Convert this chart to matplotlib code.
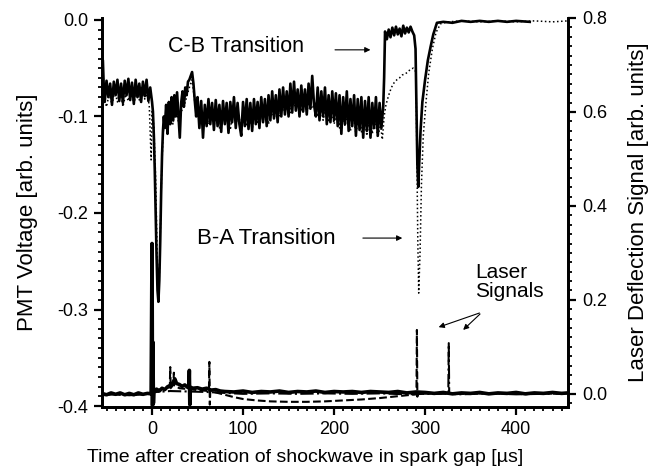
# PMT voltage and laser deflection signals after spark gap shockwave
import matplotlib
matplotlib.use("Agg")
import matplotlib.pyplot as plt
import matplotlib.ticker as mtick

plt.rcParams['font.family'] = ['Liberation Sans', 'DejaVu Sans']
plt.rcParams['axes.unicode_minus'] = False

# PMT C-B transition (solid), left axis
pmt_cb_t = [-55, -54, -53, -52, -50, -48, -46, -44, -42, -40, -38, -36, -34, -32, -30, -28,
            -26, -24, -22, -20, -18, -16, -14, -12, -10, -8, -6, -4, -2, 0,
            1, 2, 3, 4, 5, 6, 7, 8, 9, 10, 11, 12, 13,
            14, 15.5, 17, 18.5, 20, 21.5, 23, 24.5, 26, 27.5, 29, 30.5, 32, 33.5, 35, 36.5,
            38, 39.5, 41, 42.5, 44, 45.5, 47, 48.5, 50, 52, 54, 56, 58, 60, 62, 64, 66, 68,
            70, 72, 74, 76, 78, 80, 82, 84, 86, 88, 90, 92, 94, 96, 98, 100, 102, 104, 106,
            108, 110, 112, 114, 116, 118, 120, 122, 124, 126, 128, 130, 132, 134, 136, 138,
            140, 142, 144, 146, 148, 150, 152, 154, 156, 158, 160, 162, 164, 166, 168, 170,
            172, 174, 176, 178, 180, 182, 184, 186, 188, 190, 192, 194, 196, 198, 200, 202,
            204, 206, 208, 210, 212, 214, 216, 218, 220, 222, 224, 226, 228, 230, 232, 234,
            236, 238, 240, 242, 244, 246, 248, 250, 252, 254, 255, 256, 258, 260, 262, 264,
            266, 268, 270, 272, 274, 276, 278, 280, 282, 284, 286, 288, 289.5, 290.5, 291.5,
            292.5, 293.5, 295, 297, 300, 303, 306, 309, 313, 320, 330, 340, 350, 360, 370,
            380, 390, 400, 415]
pmt_cb_v = [-0.04, -0.042, -0.07, -0.085, -0.063, -0.08, -0.066, -0.088, -0.064, -0.078,
            -0.062, -0.084, -0.066, -0.086, -0.063, -0.078, -0.061, -0.083, -0.065, -0.087,
            -0.062, -0.08, -0.066, -0.085, -0.064, -0.079, -0.062, -0.084, -0.07, -0.085,
            -0.095, -0.12, -0.155, -0.2, -0.245, -0.28, -0.292, -0.27, -0.23, -0.18, -0.14,
            -0.115, -0.1,
            -0.112, -0.088, -0.118, -0.085, -0.108, -0.08, -0.104, -0.078, -0.1, -0.075, -0.098,
            -0.122, -0.086, -0.074, -0.09, -0.07, -0.078, -0.064, -0.062, -0.058, -0.054,
            -0.066, -0.084, -0.1,
            -0.08, -0.112, -0.084, -0.122, -0.088, -0.11, -0.082, -0.108, -0.086, -0.114,
            -0.083, -0.11, -0.088, -0.116, -0.084, -0.108, -0.086, -0.117, -0.085, -0.106,
            -0.08, -0.112, -0.086, -0.108, -0.12, -0.085, -0.11, -0.082, -0.113, -0.086,
            -0.115, -0.082, -0.108, -0.085, -0.112, -0.08, -0.106, -0.082, -0.11, -0.078,
            -0.104, -0.074, -0.102, -0.078, -0.106, -0.072, -0.1, -0.07, -0.098, -0.074, -0.1,
            -0.066, -0.096, -0.064, -0.094, -0.072, -0.1, -0.068, -0.095, -0.072, -0.098,
            -0.066, -0.092, -0.058, -0.088, -0.1, -0.07, -0.104, -0.074, -0.1, -0.07, -0.108,
            -0.078, -0.106, -0.074, -0.104, -0.076, -0.11, -0.078, -0.118, -0.08, -0.108,
            -0.074, -0.115, -0.082, -0.11, -0.078, -0.12, -0.082, -0.114, -0.08, -0.122,
            -0.084, -0.115, -0.08, -0.122, -0.086, -0.112, -0.08, -0.12, -0.086, -0.112, -0.09,
            -0.06, -0.012, -0.02, -0.01, -0.018, -0.008, -0.016, -0.007, -0.015, -0.009,
            -0.017, -0.006, -0.014, -0.008, -0.013, -0.007, -0.012, -0.016,
            -0.03, -0.09, -0.15, -0.173, -0.15, -0.115, -0.085, -0.062,
            -0.042, -0.028, -0.015, -0.003, -0.002, -0.003, -0.001, -0.002, -0.001, -0.002,
            -0.001, -0.002, -0.001, -0.002]

# PMT B-A transition (dotted), left axis
pmt_ba_t = [-55, -53, -50, -47, -44, -41, -38, -35, -32, -29, -26, -23, -20, -17, -14, -11, -8,
            -5, -3, -1, 0, 2, 4, 6, 7.5, 9, 10.5, 12, 14, 17, 20, 23, 26, 29, 32, 35, 38, 41,
            44, 47, 50, 53, 56, 59, 62, 65, 68, 71, 74, 77, 80, 83, 86, 89, 92, 95, 98, 101,
            104, 107, 110, 113, 116, 119, 122, 125, 128, 131, 134, 137, 140, 143, 146, 149,
            152, 155, 158, 161, 164, 167, 170, 173, 176, 179, 182, 185, 188, 191, 194, 197,
            200, 203, 206, 209, 212, 215, 218, 221, 224, 227, 230, 233, 236, 239, 242, 245,
            248, 251, 253, 255, 257, 260, 263, 266, 269, 272, 275, 278, 281, 284, 287, 290,
            291, 292, 293, 294.5, 296, 298, 301, 304, 308, 312, 317, 325, 340, 360, 380, 400,
            420, 440, 457]
pmt_ba_v = [-0.05, -0.08, -0.09, -0.076, -0.088, -0.074, -0.085, -0.072, -0.09, -0.077, -0.084,
            -0.072, -0.087, -0.075, -0.083, -0.07, -0.082, -0.076, -0.09, -0.145, -0.095, -0.11,
            -0.165, -0.26, -0.285, -0.22, -0.16, -0.12, -0.1, -0.115, -0.095, -0.108, -0.09,
            -0.105, -0.095, -0.09, -0.08, -0.07, -0.062, -0.085, -0.1, -0.09, -0.11, -0.095,
            -0.108, -0.092, -0.11, -0.098, -0.112, -0.094, -0.106, -0.097, -0.114, -0.095,
            -0.108, -0.098, -0.112, -0.096, -0.11, -0.099, -0.113, -0.096, -0.108, -0.094,
            -0.105, -0.092, -0.108, -0.09, -0.103, -0.088, -0.1, -0.086, -0.097, -0.084, -0.096,
            -0.08, -0.094, -0.082, -0.095, -0.08, -0.096, -0.083, -0.092, -0.086, -0.1, -0.088,
            -0.104, -0.09, -0.106, -0.092, -0.108, -0.095, -0.112, -0.096, -0.11, -0.095,
            -0.115, -0.098, -0.118, -0.1, -0.116, -0.098, -0.12, -0.1, -0.118, -0.102, -0.122,
            -0.108, -0.124, -0.1, -0.088, -0.078, -0.07, -0.065, -0.062, -0.06, -0.057, -0.056,
            -0.054, -0.051, -0.05, -0.054, -0.14, -0.23, -0.283, -0.24, -0.17, -0.12, -0.085,
            -0.055, -0.03, -0.013, -0.004, -0.002, -0.001, -0.002, -0.001, -0.002, -0.001,
            -0.002, -0.001]

# laser deflection signals, right axis
laser1_t = [-55, -50, -45, -40, -35, -30, -25, -20, -15, -10, -5, -1, 0, 0.5, 1, 1.5, 2, 3, 5,
            8, 11, 14, 17, 20, 23, 25, 27, 30, 33, 36, 39, 40.5, 41, 41.5, 42, 45, 50, 55, 60,
            65, 70, 75, 80, 90, 100, 110, 120, 130, 140, 150, 160, 170, 180, 190, 200, 210,
            220, 230, 240, 250, 260, 270, 280, 290, 300, 310, 320, 330, 340, 350, 360, 370,
            380, 390, 400, 410, 420, 430, 440, 450, 457]
laser1_v = [0.001, -0.002, 0.002, -0.001, 0.002, -0.002, 0.001, -0.002, 0.002, -0.001, 0.001,
            0.0, 0.32, -0.025, 0.11, -0.02, 0.005, 0.008, 0.01, 0.006, 0.012, 0.009, 0.015,
            0.018, 0.024, 0.032, 0.022, 0.02, 0.016, 0.019, 0.014, 0.013, 0.05, -0.023, 0.014,
            0.012, 0.013, 0.01, 0.012, 0.008, 0.009, 0.006, 0.005, 0.004, 0.006, 0.003, 0.005,
            0.004, 0.006, 0.003, 0.005, 0.004, 0.006, 0.003, 0.005, 0.004, 0.005, 0.003, 0.005,
            0.004, 0.003, 0.005, 0.002, 0.004, 0.003, 0.001, 0.003, 0.0, 0.002, 0.001, 0.003,
            0.0, 0.002, 0.001, 0.003, 0.0, 0.002, 0.001, 0.003, 0.001, 0.002]

laser2_t = [-55, -45, -35, -25, -15, -5, 5, 15, 19.5, 20, 20.5, 23.5, 24, 24.5, 30, 40, 50,
            62.5, 63, 63.5, 64, 70, 80, 90, 100, 115, 130, 150, 170, 190, 210, 230, 250, 265,
            280, 290.5, 291, 291.5, 292, 310, 340, 370, 400, 430, 457]
laser2_v = [-0.002, 0.0, -0.002, 0.0, -0.002, 0.0, 0.008, 0.012, 0.014, 0.057, 0.012, 0.02,
            0.045, 0.018, 0.012, 0.01, 0.008, 0.006, 0.068, -0.023, 0.006, 0.003, -0.002,
            -0.007, -0.011, -0.014, -0.016, -0.017, -0.017, -0.016, -0.014, -0.012, -0.009,
            -0.006, -0.003, -0.001, 0.136, -0.006, 0.0, 0.001, 0.0, 0.001, 0.0, 0.001, 0.0]

laser3_t = [-55, -40, -25, -10, 5, 20, 40, 60, 80, 100, 130, 160, 190, 220, 250, 280, 300,
            325.5, 326, 326.5, 340, 370, 400, 430, 457]
laser3_v = [-0.003, -0.001, -0.003, -0.001, 0.004, 0.006, 0.005, 0.004, 0.002, 0.0, 0.001,
            0.0, 0.001, 0.0, 0.001, -0.001, 0.0, 0.0, 0.108, 0.0, -0.001, 0.001, -0.001, 0.0,
            0.001]

fig = plt.figure(figsize=(6.63, 4.72), dpi=100)
ax = fig.add_axes([0.1538, 0.1377, 0.7029, 0.8242])
ax2 = ax.twinx()

ax.plot(pmt_cb_t, pmt_cb_v, color='black', linewidth=1.9, linestyle='-')
ax.plot(pmt_ba_t, pmt_ba_v, color='black', linewidth=1.1, linestyle=':')

ax2.plot(laser1_t, laser1_v, color='black', linewidth=2.6, linestyle='-')
ax2.plot(laser2_t, laser2_v, color='black', linewidth=1.5, linestyle='--')
ax2.plot(laser3_t, laser3_v, color='black', linewidth=1.5, linestyle='-.')

ax.set_xlim(-55, 457)
ax.set_ylim(-0.401, 0.002)
ax2.set_ylim(-0.028, 0.8)

ax.xaxis.set_major_locator(mtick.MultipleLocator(100))
ax.xaxis.set_minor_locator(mtick.MultipleLocator(10))
ax.yaxis.set_major_locator(mtick.MultipleLocator(0.1))
ax.yaxis.set_minor_locator(mtick.MultipleLocator(0.01))
ax.yaxis.set_major_formatter(mtick.FormatStrFormatter('%.1f'))
ax2.yaxis.set_major_locator(mtick.MultipleLocator(0.2))
ax2.yaxis.set_minor_locator(mtick.MultipleLocator(0.02))
ax2.yaxis.set_major_formatter(mtick.FormatStrFormatter('%.1f'))

for a in (ax, ax2):
    a.spines['top'].set_visible(False)
    for s in ('left', 'right', 'bottom'):
        a.spines[s].set_linewidth(2)
    a.tick_params(which='major', direction='out', length=6, width=1.6, labelsize=13, pad=4)
    a.tick_params(which='minor', direction='out', length=3, width=1.3)

ax.set_xlabel('Time after creation of shockwave in spark gap [µs]', fontsize=14)
ax.xaxis.set_label_coords(0.436, -0.108)
ax.set_ylabel('PMT Voltage [arb. units]', fontsize=16)
ax.yaxis.set_label_coords(-0.137, 0.5)
ax2.set_ylabel('Laser Deflection Signal [arb. units]', fontsize=16)
ax2.yaxis.set_label_coords(1.129, 0.5)

arrow = dict(arrowstyle='-|>', color='black', linewidth=0.8, mutation_scale=8)
ax.text(17.6, -0.028, 'C-B Transition', fontsize=15.5, ha='left', va='center')
ax.annotate('', xy=(243, -0.031), xytext=(198, -0.031), arrowprops=arrow)
ax.text(49.5, -0.226, 'B-A Transition', fontsize=16, ha='left', va='center')
ax.annotate('', xy=(278, -0.226), xytext=(228.6, -0.226), arrowprops=arrow)

ax2.text(355, 0.238, 'Laser\nSignals', fontsize=15, ha='left', va='center', linespacing=1.05)
ax2.annotate('', xy=(312, 0.14), xytext=(362.6, 0.174), arrowprops=arrow)
ax2.annotate('', xy=(339.6, 0.132), xytext=(362.6, 0.174), arrowprops=arrow)

plt.savefig('out.png', dpi=100)
